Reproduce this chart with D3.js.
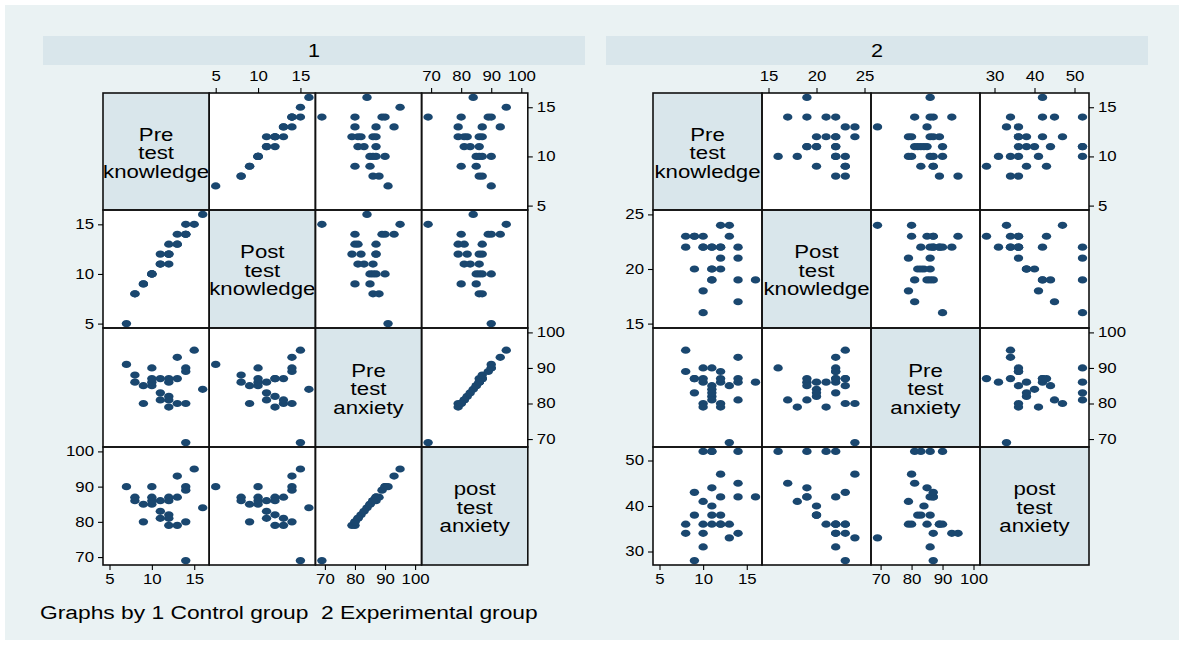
<!DOCTYPE html>
<html>
<head>
<meta charset="utf-8">
<script src="https://cdn.jsdelivr.net/npm/d3@7"></script>
<style>
  body { margin: 0; background: #ffffff; }
  svg { display: block; }
</style>
</head>
<body>
<svg id="chart" width="1184" height="645"></svg>
<script>
// ---------------- DATA ----------------
const groupLabels = ["1", "2"];
const variableLabels = [
  ["Pre", "test", "knowledge"],
  ["Post", "test", "knowledge"],
  ["Pre", "test", "anxiety"],
  ["post", "test", "anxiety"]
];
const footnoteText = "Graphs by 1 Control group  2 Experimental group";

// Group 1 (Control group)
const g1PreKnowledge  = [16,15,14,14,14,14,13,13,13,12,12,12,12,12,11,11,11,10,10,10,10, 9, 9, 8, 8, 7];
const g1PostKnowledge = [16,15,14,14,14,15,13,13,14,11,12,12,12,13,11,11,12,10,10,10,10, 9, 9, 8, 8, 5];
const g1PreAnxiety    = [84,95,80,89,90,69,80,87,93,86,79,82,87,81,81,83,87,85,86,87,90,80,85,86,88,91];
const g1PostAnxiety   = [84,95,80,89,90,69,79,87,93,86,79,82,87,81,81,83,86,85,86,87,90,80,85,86,87,90];

// Group 2 (Experimental group)
const g2PreKnowledge  = [16,14,14,14,14,13,13,12,12,12,12,12,11,11,11,11,11,11,10,10,10,10,10, 9, 9, 9, 8, 8];
const g2PostKnowledge = [19,22,17,19,21,24,23,21,22,20,22,24,22,20,20,19,19,22,22,22,23,18,16,23,20,23,23,22];
const g2PreAnxiety    = [86,93,81,87,86,69,85,79,89,86,87,80,90,82,84,85,81,83,86,87,80,79,90,87,83,87,95,89];
const g2PostAnxiety   = [42,34,45,42,52,33,36,36,36,38,42,47,36,38,40,44,52,52,31,34,36,41,52,28,38,43,34,36];

// Tick labels
const g1KnowledgeTicks     = [5, 10, 15];
const g1PostKnowledgeTicks = [5, 10, 15];
const g1AnxietyTicks       = [70, 80, 90, 100];
const g1PostAnxietyTicks   = [70, 80, 90, 100];
const g2KnowledgeTicks     = [5, 10, 15];
const g2PostKnowledgeTicks = [15, 20, 25];
const g2AnxietyTicks       = [70, 80, 90, 100];
const g2PostAnxietyTicks   = [30, 40, 50];

// ---------------- LAYOUT / STYLE ----------------
const W = 1184, H = 645;
const SX = 1.2;                      // horizontal stretch of text
const FONT = '"Liberation Sans", Arial, Helvetica, sans-serif';
const PADX = 6.5, PADY = 4.4;
const rowEdges = [93, 210, 328, 447, 565];
const layouts = [
  { cols: [103, 209.2, 315.4, 421.6, 527.8], strip: [43, 585] },
  { cols: [653, 762, 871, 980, 1089],        strip: [606, 1148] }
];
const markerColor = "#1a476f";
const labelCellColor = "#d9e6eb";
const stripColor = "#d9e6eb";
const bgColor = "#eaf2f3";

const svg = d3.select("#chart");
svg.append("rect").attr("width", W).attr("height", H).attr("fill", "#ffffff");
svg.append("rect").attr("x", 5).attr("y", 5).attr("width", W - 10).attr("height", H - 10)
  .attr("fill", bgColor);

function stretchText(sel) {
  sel.each(function () {
    const t = d3.select(this);
    const x = +t.attr("x") || 0;
    t.attr("x", 0).attr("transform", `translate(${x},0) scale(${SX},1)`);
  });
}

const groupsData = [
  { vars: [g1PreKnowledge, g1PostKnowledge, g1PreAnxiety, g1PostAnxiety],
    ticks: [g1KnowledgeTicks, g1PostKnowledgeTicks, g1AnxietyTicks, g1PostAnxietyTicks] },
  { vars: [g2PreKnowledge, g2PostKnowledge, g2PreAnxiety, g2PostAnxiety],
    ticks: [g2KnowledgeTicks, g2PostKnowledgeTicks, g2AnxietyTicks, g2PostAnxietyTicks] }
];

groupsData.forEach((grp, gi) => {
  const L = layouts[gi];
  const cols = L.cols;
  const g = svg.append("g");
  const nVar = grp.vars.length;

  const extentOf = j => [
    Math.min(d3.min(grp.vars[j]), grp.ticks[j][0]),
    Math.max(d3.max(grp.vars[j]), grp.ticks[j][grp.ticks[j].length - 1])
  ];
  const xScales = d3.range(nVar).map(j =>
    d3.scaleLinear().domain(extentOf(j)).range([cols[j] + PADX, cols[j + 1] - PADX]));
  const yScales = d3.range(nVar).map(i =>
    d3.scaleLinear().domain(extentOf(i)).range([rowEdges[i + 1] - PADY, rowEdges[i] + PADY]));

  // strip
  g.append("rect").attr("x", L.strip[0]).attr("y", 36)
    .attr("width", L.strip[1] - L.strip[0]).attr("height", 29).attr("fill", stripColor);
  const st = g.append("text")
    .attr("x", (L.strip[0] + L.strip[1]) / 2).attr("y", 57)
    .attr("text-anchor", "middle").attr("font-family", FONT).attr("font-size", 18)
    .attr("fill", "#000").text(groupLabels[gi]);
  stretchText(st);

  // cells
  for (let i = 0; i < nVar; i++) {
    for (let j = 0; j < nVar; j++) {
      const x0 = cols[j], x1 = cols[j + 1], y0 = rowEdges[i], y1 = rowEdges[i + 1];
      g.append("rect").attr("x", x0).attr("y", y0).attr("width", x1 - x0).attr("height", y1 - y0)
        .attr("fill", i === j ? labelCellColor : "#ffffff");
      if (i === j) {
        const cx = (x0 + x1) / 2, cy = (y0 + y1) / 2 + 1;
        variableLabels[i].forEach((line, li) => {
          const t = g.append("text")
            .attr("x", cx).attr("y", cy + (li - 1) * 18.5)
            .attr("dy", "0.36em")
            .attr("text-anchor", "middle").attr("font-family", FONT).attr("font-size", 18.5)
            .attr("fill", "#000").text(line);
          stretchText(t);
        });
      } else {
        const xs = grp.vars[j], ys = grp.vars[i];
        g.append("g").selectAll("ellipse")
          .data(d3.range(xs.length))
          .join("ellipse")
          .attr("cx", k => xScales[j](xs[k]))
          .attr("cy", k => yScales[i](ys[k]))
          .attr("rx", 4.7).attr("ry", 3.6)
          .attr("fill", markerColor);
      }
    }
  }
  // borders
  for (let i = 0; i < nVar; i++) {
    for (let j = 0; j < nVar; j++) {
      g.append("rect").attr("x", cols[j]).attr("y", rowEdges[i])
        .attr("width", cols[j + 1] - cols[j]).attr("height", rowEdges[i + 1] - rowEdges[i])
        .attr("fill", "none").attr("stroke", "#111").attr("stroke-width", 1.6);
    }
  }

  function styleAxis(ag) {
    ag.select(".domain").remove();
    ag.selectAll(".tick line").attr("stroke", "#000").attr("stroke-width", 1.1);
    ag.selectAll(".tick text").attr("fill", "#000").attr("font-size", 14).attr("font-family", FONT);
    stretchText(ag.selectAll(".tick text"));
  }
  // top axes (odd columns), bottom axes (even columns)
  for (let j = 0; j < nVar; j++) {
    if (j % 2 === 1) {
      const ag = g.append("g").attr("transform", `translate(0,${rowEdges[0]})`)
        .call(d3.axisTop(xScales[j]).tickValues(grp.ticks[j]).tickSize(5).tickPadding(7));
      styleAxis(ag);
    } else {
      const ag = g.append("g").attr("transform", `translate(0,${rowEdges[nVar]})`)
        .call(d3.axisBottom(xScales[j]).tickValues(grp.ticks[j]).tickSize(5).tickPadding(4));
      styleAxis(ag);
    }
  }
  // right axes (even rows), left axes (odd rows)
  for (let i = 0; i < nVar; i++) {
    if (i % 2 === 0) {
      const ag = g.append("g").attr("transform", `translate(${cols[nVar]},0)`)
        .call(d3.axisRight(yScales[i]).tickValues(grp.ticks[i]).tickSize(5).tickPadding(4));
      styleAxis(ag);
    } else {
      const ag = g.append("g").attr("transform", `translate(${cols[0]},0)`)
        .call(d3.axisLeft(yScales[i]).tickValues(grp.ticks[i]).tickSize(5).tickPadding(4));
      styleAxis(ag);
    }
  }
});

// footnote
const fn = svg.append("text").attr("x", 40).attr("y", 619)
  .attr("font-family", FONT).attr("font-size", 19).attr("fill", "#000")
  .style("white-space", "pre").attr("xml:space", "preserve").text(footnoteText);
stretchText(fn);
</script>
</body>
</html>
